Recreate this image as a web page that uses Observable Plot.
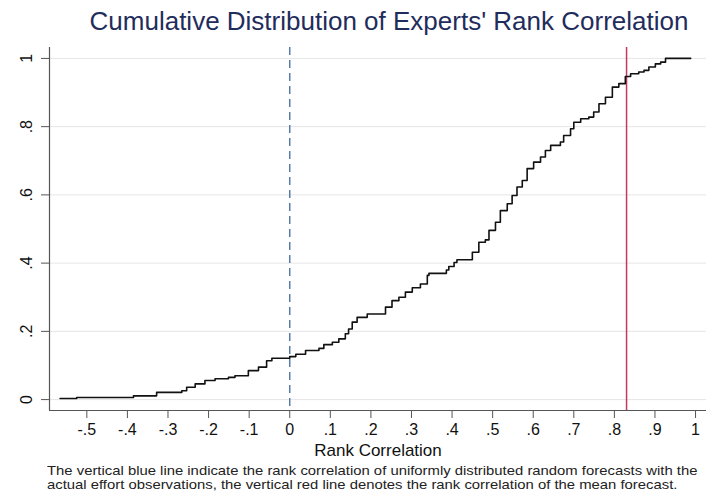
<!DOCTYPE html>
<html>
<head>
<meta charset="utf-8">
<script src="https://cdn.jsdelivr.net/npm/d3@7"></script>
<script src="https://cdn.jsdelivr.net/npm/@observablehq/plot@0.6"></script>
<style>
  body { margin: 0; background: #fff; width: 712px; height: 496px; overflow: hidden; }
  #title { height: 40px; box-sizing: border-box; padding-top: 6px; padding-left: 66px; text-align: center;
           font: 26px "Liberation Sans", Arial, sans-serif; color: #1f2d5c; white-space: nowrap; }
  #chart svg { display: block; }
  #caption { padding: 4px 0 0 47px; font: 13.5px/14px "Liberation Sans", Arial, sans-serif; color: #222; white-space: nowrap;
             transform: scaleX(1.1); transform-origin: 47px 0; }
</style>
</head>
<body>
<div id="title">Cumulative Distribution of Experts' Rank Correlation</div>
<div id="chart"></div>
<div id="caption">The vertical blue line indicate the rank correlation of uniformly distributed random forecasts with the<br>actual effort observations, the vertical red line denotes the rank correlation of the mean forecast.</div>
<script>
// ECDF step points: rank correlation (x) and cumulative share of experts (y)
const rankCorr = [-0.566, -0.525, -0.385, -0.328, -0.266, -0.254, -0.233, -0.209, -0.184, -0.151,
  -0.135, -0.102, -0.077, -0.057, -0.044, 0.000, 0.015, 0.039, 0.072, 0.084,
  0.105, 0.121, 0.137, 0.145, 0.154, 0.166, 0.191, 0.236, 0.252, 0.269,
  0.285, 0.302, 0.322, 0.339, 0.343, 0.386, 0.392, 0.405, 0.412, 0.450,
  0.466, 0.482, 0.491, 0.507, 0.519, 0.536, 0.548, 0.560, 0.573, 0.585,
  0.601, 0.618, 0.630, 0.643, 0.667, 0.675, 0.692, 0.700, 0.717, 0.737,
  0.749, 0.762, 0.778, 0.795, 0.811, 0.827, 0.840, 0.860, 0.873, 0.885,
  0.901, 0.914, 0.926, 0.988];
const cumShare = [0.003, 0.006, 0.011, 0.021, 0.026, 0.036, 0.046, 0.056, 0.061, 0.065,
  0.070, 0.085, 0.095, 0.114, 0.121, 0.126, 0.133, 0.144, 0.150, 0.161,
  0.168, 0.178, 0.193, 0.207, 0.227, 0.241, 0.251, 0.271, 0.290, 0.300,
  0.315, 0.328, 0.339, 0.364, 0.370, 0.380, 0.390, 0.402, 0.410, 0.432,
  0.461, 0.468, 0.496, 0.520, 0.554, 0.574, 0.598, 0.623, 0.642, 0.677,
  0.696, 0.711, 0.730, 0.745, 0.755, 0.774, 0.794, 0.813, 0.823, 0.828,
  0.843, 0.867, 0.886, 0.916, 0.926, 0.947, 0.955, 0.960, 0.965, 0.975,
  0.984, 0.989, 1.000, 1.000];
const randomForecastCorr = [0];
const meanForecastCorr = [0.83];
const xTicks = [-0.5, -0.4, -0.3, -0.2, -0.1, 0, 0.1, 0.2, 0.3, 0.4, 0.5, 0.6, 0.7, 0.8, 0.9, 1];
const yTicks = [0, 0.2, 0.4, 0.6, 0.8, 1];
const xDomain = [-0.592, 1.027];
const yDomain = [-0.032, 1.032];
const xLabel = "Rank Correlation";

const data = rankCorr.map((x, i) => ({x, y: cumShare[i]}));
const fmt = d => d === 0 ? "0" : (d < 0 ? "-" : "") + String(Math.abs(d)).replace(/^0(?=\.)/, "");
const axisColor = "#555";

const chart = Plot.plot({
  width: 712,
  height: 420,
  marginTop: 7,
  marginBottom: 50,
  marginLeft: 49,
  marginRight: 6,
  x: {domain: xDomain},
  y: {domain: yDomain},
  style: {fontFamily: "'Liberation Sans', Arial, sans-serif", background: "#fff", color: "#111", fontSize: "16px"},
  marks: [
    Plot.gridY(yTicks, {stroke: "#e6e6e6", strokeOpacity: 1, strokeWidth: 1}),
    Plot.ruleX(randomForecastCorr, {stroke: "#5a7ca4", strokeWidth: 1.5, strokeDasharray: "8,5"}),
    Plot.ruleX(meanForecastCorr, {stroke: "#c23a62", strokeWidth: 1.5}),
    Plot.line(data, {x: "x", y: "y", curve: "step-after", stroke: "#111", strokeWidth: 1.6}),
    Plot.ruleX([xDomain[0]], {stroke: axisColor, strokeWidth: 1.2}),
    Plot.ruleY([yDomain[0]], {stroke: axisColor, strokeWidth: 1.2}),
    Plot.axisX(xTicks, {tickFormat: fmt, tickSize: 8, tickPadding: 5, fontSize: 16, stroke: axisColor, label: null}),
    Plot.axisY(yTicks, {tickFormat: fmt, tickSize: 8, tickPadding: 10, tickRotate: -90, fontSize: 16, stroke: axisColor, label: null}),
    Plot.text([xLabel], {frameAnchor: "bottom", dy: 45, fontSize: 17, fill: "#111"})
  ]
});
document.getElementById("chart").append(chart);
</script>
</body>
</html>
